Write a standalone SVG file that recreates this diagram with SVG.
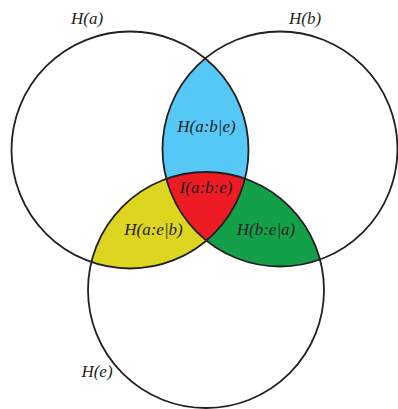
<svg xmlns="http://www.w3.org/2000/svg" width="398" height="409" viewBox="0 0 398 409">
  <style>
    .ring { fill: none; stroke: #231f20; stroke-width: 1.8; }
    .lbl { font-family: "Liberation Serif", "Times New Roman", serif; font-style: italic; font-size: 17px; fill: #231f20; }
    .mid { text-anchor: middle; }
  </style>
  <defs>
    <clipPath id="inA"><circle cx="130" cy="150" r="118.5"/></clipPath>
    <clipPath id="inB"><circle cx="280" cy="149" r="117.5"/></clipPath>
  </defs>
  <rect width="398" height="409" fill="#ffffff"/>

  <!-- shaded overlap regions, painted from outer pairs to the triple core -->
  <g id="region-ab-given-e">
    <circle cx="280" cy="149" r="117.5" fill="#55c8f5" clip-path="url(#inA)"/>
  </g>
  <g id="region-ae-given-b">
    <circle cx="206" cy="290" r="118" fill="#ddd51f" clip-path="url(#inA)"/>
  </g>
  <g id="region-be-given-a">
    <circle cx="206" cy="290" r="118" fill="#149f49" clip-path="url(#inB)"/>
  </g>
  <g id="region-abe">
    <g clip-path="url(#inA)">
      <circle cx="206" cy="290" r="118" fill="#ed1c24" clip-path="url(#inB)"/>
    </g>
  </g>

  <!-- set outlines -->
  <g id="set-a">
    <circle class="ring" cx="130" cy="150" r="118.5"/>
    <text class="lbl mid" x="87" y="24">H(a)</text>
  </g>
  <g id="set-b">
    <circle class="ring" cx="280" cy="149" r="117.5"/>
    <text class="lbl mid" x="305" y="24">H(b)</text>
  </g>
  <g id="set-e">
    <circle class="ring" cx="206" cy="290" r="118"/>
    <text class="lbl mid" x="97" y="377">H(e)</text>
  </g>

  <!-- region labels -->
  <g id="labels">
    <text class="lbl mid" x="206.5" y="132">H(a:b|e)</text>
    <text class="lbl mid" x="206" y="193">I(a:b:e)</text>
    <text class="lbl mid" x="153.5" y="235">H(a:e|b)</text>
    <text class="lbl mid" x="266" y="235">H(b:e|a)</text>
  </g>
</svg>
